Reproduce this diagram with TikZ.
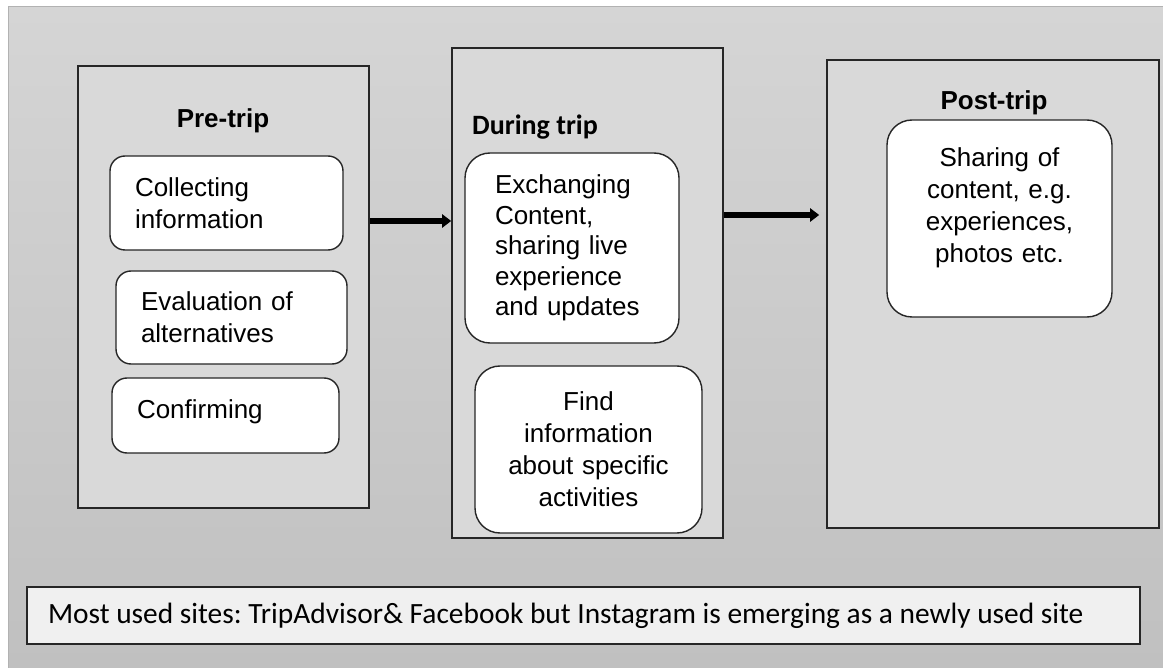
\documentclass[tikz,border=0pt]{standalone}
\usepackage{fontspec}
\setmainfont{Liberation Sans}
\newfontfamily\calibri{Carlito}
\newcommand\notefont{\calibri\fontsize{29.4}{34}\selectfont\frenchspacing}
\usetikzlibrary{positioning}
\usetikzlibrary{arrows.meta}
\definecolor{bgtop}{HTML}{D5D5D5}
\definecolor{bgbottom}{HTML}{C0C0C0}
\definecolor{panelgray}{HTML}{D9D9D9}
\definecolor{notegray}{HTML}{F0F0F0}

\begin{document}
\begin{tikzpicture}[x=1pt,y=-1pt,
                every node/.style={font=\fontsize{26}{32}\selectfont},
                panel/.style={rectangle,draw=black!85,line width=1.6pt,fill=panelgray},
                card/.style={draw=black!85,line width=1.4pt,fill=white,
                             rounded corners=15pt,inner xsep=25pt,align=left},
                heading/.style={font=\fontsize{26}{32}\selectfont\bfseries},
                flow/.style={-{Triangle[length=9pt,width=13pt]},line width=5.5pt}]
             \useasboundingbox (0,0) rectangle (1163,668);
             \shade[top color=bgtop,bottom color=bgbottom] (8,7) rectangle (1163,668);
             \draw[black!30,line width=1pt] (8,668) -- (8,7) -- (1163,7);
             % three phases
             \node[panel,minimum width=291pt,minimum height=442pt] (pretrip) at (223.5,287) {};
             \node[panel,minimum width=271pt,minimum height=490pt] (duringtrip) at (587.5,293) {};
             \node[panel,minimum width=332pt,minimum height=468pt] (posttrip) at (993,294) {};
             \node[heading,anchor=base] (pretitle) at (223,128) {Pre-trip};
             \node[heading,anchor=base west,inner sep=0pt,
                   font=\calibri\fontsize{28}{32}\selectfont\bfseries] (duringtitle) at (472,135) {During trip};
             \node[heading,anchor=base] (posttitle) at (994,110) {Post-trip};
             % pre-trip
             \node[card,text width=183pt,minimum height=94pt] (collect) at (226.5,203)
                  {Collecting\\information};
             \node[card,text width=181pt,minimum height=93pt] (evaluate) at (231.5,317.5)
                  {Evaluation of\\alternatives};
             \node[card,text width=177pt,minimum height=75pt,text depth=13pt] (confirm) at (225.5,415.5)
                  {Confirming};
             % during trip
             \node[card,rounded corners=25pt,inner xsep=30pt,text width=154pt,minimum height=190pt,
                   font=\fontsize{26}{30.5}\selectfont] (exchange) at (572,248)
                  {Exchanging\\Content,\\sharing live\\experience\\and updates};
             \node[card,rounded corners=25pt,align=center,text width=177pt,minimum height=167pt]
                  (activities) at (588.5,449.5) {Find\\information\\about specific\\activities};
             % post-trip
             \node[card,rounded corners=25pt,align=center,text width=175pt,minimum height=197pt,
                   text depth=122pt] (sharing) at (999.5,218.5)
                  {Sharing of\\content, e.g.\\experiences,\\photos etc.};
             \draw[flow] ([yshift=66pt]pretrip.east) -- ([yshift=66pt]pretrip.east -| duringtrip.west);
             \draw[flow,shorten >=7pt] ([yshift=78pt]duringtrip.east) -- ([yshift=78pt]duringtrip.east -| posttrip.west);
             \node[draw=black!85,line width=1.6pt,fill=notegray,minimum height=57pt,
                   inner xsep=21pt,font=\notefont] (sites) at (583.5,615.5)
                  {\makebox[1071pt][l]{Most used sites: TripAdvisor\& Facebook but Instagram is emerging as a newly used site}};
             \end{tikzpicture}
\end{document}
